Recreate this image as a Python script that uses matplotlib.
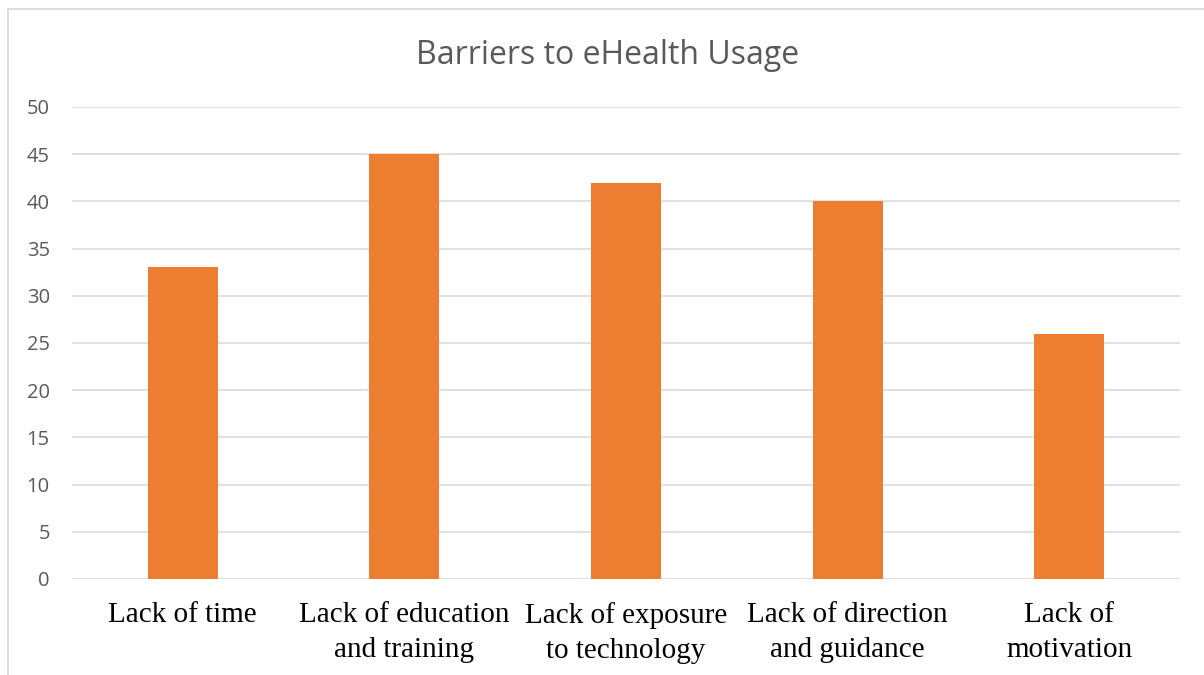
import matplotlib.pyplot as plt
from matplotlib.patches import Rectangle

categories = ["Lack of time", "Lack of education\nand training", "Lack of exposure\nto technology",
              "Lack of direction\nand guidance", "Lack of\nmotivation"]
values = [33, 45, 42, 40, 26]
yticks = [0, 5, 10, 15, 20, 25, 30, 35, 40, 45, 50]

fig = plt.figure(figsize=(12.04, 6.75), dpi=100)
# chart frame (Excel style), cut off at right and bottom
fig.patches.append(Rectangle((8 / 1204, -0.1), 1.2, 1 - 9 / 675 + 0.1, transform=fig.transFigure,
                             fill=False, edgecolor="#D9D9D9", linewidth=1.3))

ax = fig.add_axes([72 / 1204, 1 - 579 / 675, (1180 - 72) / 1204, (579 - 107) / 675])
x = range(len(categories))
ax.bar(x, values, width=0.316, color="#ED7D31", zorder=3)
ax.set_xlim(-0.5, len(categories) - 0.5)
ax.set_ylim(0, 50)
ax.set_yticks(yticks)
ax.yaxis.grid(True, color="#D9D9D9", linewidth=1.1, zorder=0)
for s in ax.spines.values():
    s.set_visible(False)
ax.tick_params(axis="both", length=0)
ax.tick_params(axis="y", labelsize=14.5, labelcolor="#595959", pad=16)
ax.set_yticklabels([str(t) for t in yticks], family="Open Sans")
ax.set_xticks(list(x))
ax.set_xticklabels(categories, family="Liberation Serif", fontsize=21, color="black",
                   linespacing=1.44)
ax.tick_params(axis="x", pad=16.5)

fig.text(608 / 1204, 1 - 55 / 675, "Barriers to eHealth Usage", ha="center", va="center",
         fontsize=23, color="#595959", family="Open Sans")

fig.savefig("out.png", dpi=100)
